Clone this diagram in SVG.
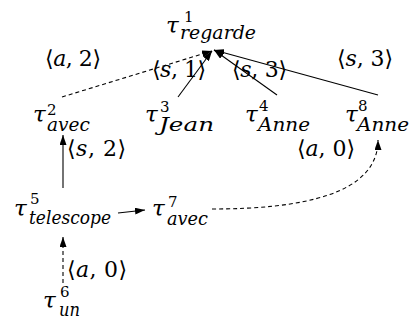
<svg xmlns="http://www.w3.org/2000/svg" width="409" height="320" viewBox="0 0 409 320">
<defs>
<marker id="arr" viewBox="0 0 10 7" refX="10" refY="3.5" markerWidth="10" markerHeight="7" markerUnits="userSpaceOnUse" orient="auto">
<path d="M0,0 L10,3.5 L0,7 z" fill="#000"/>
</marker>
<style>
.t{font-family:"DejaVu Serif","Liberation Serif",serif;fill:#000}
.tau{font-size:23px;font-style:italic}
.sup{font-size:15px;font-style:normal}
.sub{font-size:18px;font-style:italic}
.lab{font-size:22px}
.it{font-style:italic}
.ln{fill:none;stroke:#000;stroke-width:1.1;marker-end:url(#arr)}
.dash{stroke-dasharray:4 3}
</style>
</defs>
<rect width="409" height="320" fill="#fff"/>
<g id="connectors">
<path class="ln dash" d="M62,97 L212,51"/>
<path class="ln" d="M178,97 L212,51"/>
<path class="ln" d="M277,95 L214,50"/>
<path class="ln" d="M378,95 L214,50"/>
<path class="ln" d="M63,188 L63,135"/>
<path class="ln" d="M118,213 L145,210"/>
<path class="ln dash" d="M63,283 L63,237"/>
<path class="ln dash" d="M212,209 C300,209 378,195 378,140"/>
</g>
<g id="labels">
<text class="t lab" x="45" y="66" textLength="56">⟨<tspan class="it">a</tspan>, 2⟩</text>
<text class="t lab" x="152" y="77" textLength="54">⟨<tspan class="it">s</tspan>, 1⟩</text>
<text class="t lab" x="232" y="77" textLength="55">⟨<tspan class="it">s</tspan>, 3⟩</text>
<text class="t lab" x="337" y="66" textLength="56">⟨<tspan class="it">s</tspan>, 3⟩</text>
<text class="t lab" x="67" y="156" textLength="59">⟨<tspan class="it">s</tspan>, 2⟩</text>
<text class="t lab" x="297" y="156" textLength="58">⟨<tspan class="it">a</tspan>, 0⟩</text>
<text class="t lab" x="67" y="277" textLength="60">⟨<tspan class="it">a</tspan>, 0⟩</text>
</g>
<g id="n1">
<text class="t tau" x="166" y="33">τ<tspan class="sup" x="184" y="22">1</tspan><tspan class="sub" x="180" y="39" textLength="76" lengthAdjust="spacingAndGlyphs">regarde</tspan></text>
</g>
<g id="n2">
<text class="t tau" x="33" y="122">τ<tspan class="sup" x="47" y="115">2</tspan><tspan class="sub" x="47" y="131" textLength="43" lengthAdjust="spacingAndGlyphs">avec</tspan></text>
</g>
<g id="n3">
<text class="t tau" x="145" y="122">τ<tspan class="sup" x="160" y="112">3</tspan><tspan class="sub" x="159" y="131" textLength="55" lengthAdjust="spacingAndGlyphs">Jean</tspan></text>
</g>
<g id="n4">
<text class="t tau" x="245" y="122">τ<tspan class="sup" x="259" y="111">4</tspan><tspan class="sub" x="258" y="131" textLength="52" lengthAdjust="spacingAndGlyphs">Anne</tspan></text>
</g>
<g id="n8">
<text class="t tau" x="345" y="122">τ<tspan class="sup" x="358" y="111">8</tspan><tspan class="sub" x="357" y="131" textLength="52" lengthAdjust="spacingAndGlyphs">Anne</tspan></text>
</g>
<g id="n5">
<text class="t tau" x="14" y="216">τ<tspan class="sup" x="30" y="204">5</tspan><tspan class="sub" x="29" y="224" textLength="82" lengthAdjust="spacingAndGlyphs">telescope</tspan></text>
</g>
<g id="n7">
<text class="t tau" x="152" y="216">τ<tspan class="sup" x="168" y="207">7</tspan><tspan class="sub" x="167" y="225" textLength="41" lengthAdjust="spacingAndGlyphs">avec</tspan></text>
</g>
<g id="n6">
<text class="t tau" x="43" y="308">τ<tspan class="sup" x="60" y="297">6</tspan><tspan class="sub" x="59" y="316" textLength="21" lengthAdjust="spacingAndGlyphs">un</tspan></text>
</g>
</svg>
